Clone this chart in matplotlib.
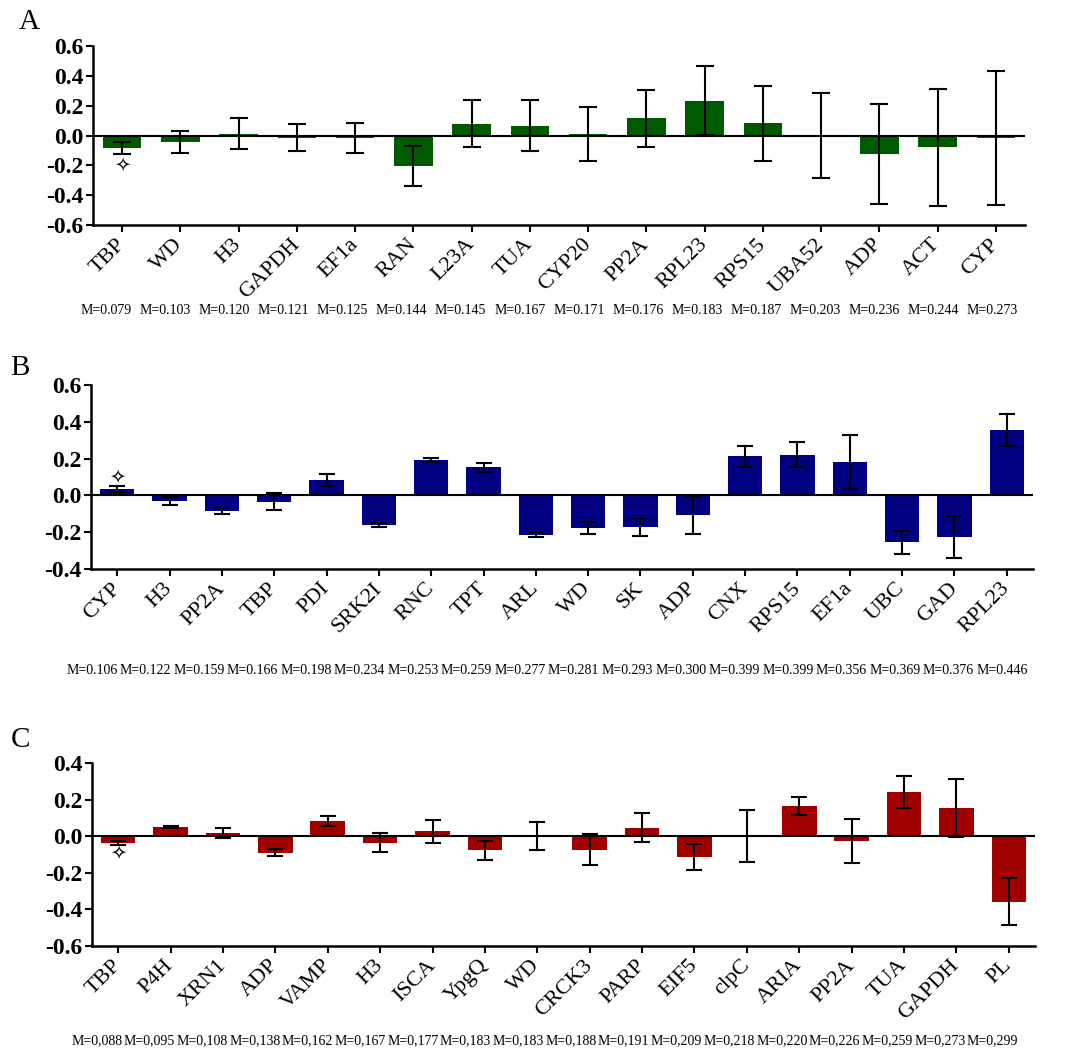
import numpy as np
import matplotlib
matplotlib.use("Agg")
import matplotlib.pyplot as plt
import matplotlib.transforms as mtransforms

# panel A
genes_a = ['TBP', 'WD', 'H3', 'GAPDH', 'EF1a', 'RAN', 'L23A', 'TUA', 'CYP20', 'PP2A',
           'RPL23', 'RPS15', 'UBA52', 'ADP', 'ACT', 'CYP']
mean_a = [-0.085, -0.043, 0.012, -0.016, -0.016, -0.206, 0.079, 0.066, 0.011, 0.115,
          0.234, 0.082, 0.0, -0.126, -0.080, -0.017]
err_a = [0.039, 0.076, 0.105, 0.090, 0.098, 0.133, 0.158, 0.172, 0.181, 0.189,
         0.229, 0.253, 0.285, 0.335, 0.395, 0.451]
m_a = [0.079, 0.103, 0.120, 0.121, 0.125, 0.144, 0.145, 0.167, 0.171, 0.176,
       0.183, 0.187, 0.203, 0.236, 0.244, 0.273]

# panel B
genes_b = ['CYP', 'H3', 'PP2A', 'TBP', 'PDI', 'SRK2I', 'RNC', 'TPT', 'ARL', 'WD',
           'SK', 'ADP', 'CNX', 'RPS15', 'EF1a', 'UBC', 'GAD', 'RPL23']
mean_b = [0.034, -0.030, -0.085, -0.034, 0.082, -0.161, 0.192, 0.153, -0.217, -0.178,
          -0.171, -0.108, 0.213, 0.220, 0.180, -0.254, -0.226, 0.356]
err_b = [0.015, 0.020, 0.015, 0.046, 0.032, 0.012, 0.012, 0.025, 0.010, 0.031,
         0.048, 0.104, 0.057, 0.068, 0.147, 0.062, 0.113, 0.087]
m_b = [0.106, 0.122, 0.159, 0.166, 0.198, 0.234, 0.253, 0.259, 0.277, 0.281,
       0.293, 0.300, 0.399, 0.399, 0.356, 0.369, 0.376, 0.446]

# panel C
genes_c = ['TBP', 'P4H', 'XRN1', 'ADP', 'VAMP', 'H3', 'ISCA', 'YpgQ', 'WD', 'CRCK3',
           'PARP', 'EIF5', 'clpC', 'ARIA', 'PP2A', 'TUA', 'GAPDH', 'PL']
mean_c = [-0.035, 0.051, 0.017, -0.090, 0.082, -0.035, 0.028, -0.078, 0.0, -0.075,
          0.047, -0.111, 0.0, 0.165, -0.028, 0.242, 0.154, -0.358]
err_c = [0.011, 0.005, 0.027, 0.019, 0.027, 0.054, 0.063, 0.051, 0.077, 0.085,
         0.078, 0.071, 0.142, 0.047, 0.121, 0.087, 0.156, 0.127]
m_c = [0.088, 0.095, 0.108, 0.138, 0.162, 0.167, 0.177, 0.183, 0.183, 0.188,
       0.191, 0.209, 0.218, 0.220, 0.226, 0.259, 0.273, 0.299]

SERIF = 'Liberation Serif'
W, H = 1068, 1049


def draw_panel(fig, rect, genes, means, errs, mvals, color, yticks, letter, letter_xy,
               star_y, m_range, m_y, capsize, comma=False):
    ax = fig.add_axes(rect)
    x = np.arange(len(genes))
    ax.bar(x, means, width=0.66, color=color, zorder=2)
    ax.errorbar(x, means, yerr=errs, fmt='none', ecolor='black', elinewidth=1.5,
                capsize=capsize, capthick=1.5, zorder=3)
    ax.axhline(0, color='black', lw=1.5, zorder=4)
    ax.set_xlim(-0.5, len(genes) - 0.5)
    ax.set_ylim(yticks[0], yticks[-1])
    ax.set_yticks(yticks)
    ax.set_yticklabels([f"{v:.1f}" for v in yticks], fontfamily=SERIF,
                       fontweight='bold', fontsize=17)
    ax.set_xticks(x)
    ax.set_xticklabels(genes, rotation=45, ha='right', va='center',
                       rotation_mode='anchor', fontfamily=SERIF, fontsize=16)
    ax.tick_params(axis='both', width=1.5, length=5)
    ax.tick_params(axis='x', pad=7)
    ax.tick_params(axis='y', pad=2)
    for s in ['top', 'right']:
        ax.spines[s].set_visible(False)
    for s in ['left', 'bottom']:
        ax.spines[s].set_linewidth(1.8)

    # reference gene marker
    ax.text(0, star_y, '\u2727', ha='center', va='center', fontsize=14,
            fontfamily='DejaVu Sans', zorder=5)

    fig.text(letter_xy[0] / W, 1 - letter_xy[1] / H, letter, fontfamily=SERIF,
             fontsize=21, ha='center', va='center')

    trans = mtransforms.blended_transform_factory(ax.transAxes, fig.transFigure)
    xs = np.linspace(m_range[0], m_range[1], len(mvals))
    for xp, mv in zip(xs, mvals):
        s = f"M={mv:.3f}"
        if comma:
            s = s.replace('.', ',')
        ax.text(xp, 1 - m_y / H, s, transform=trans, ha='center', va='center',
                fontfamily=SERIF, fontsize=10)
    return ax


fig = plt.figure(figsize=(W / 100, H / 100), dpi=100)

draw_panel(fig, [93 / W, 1 - 225 / H, 932 / W, 179 / H], genes_a, mean_a, err_a, m_a,
           '#005a00', np.round(np.arange(-0.6, 0.61, 0.2), 1), 'A', (29, 22),
           -0.2, (0.014, 0.965), 310, 6.5)
draw_panel(fig, [91 / W, 1 - 569 / H, 942 / W, 184 / H], genes_b, mean_b, err_b, m_b,
           '#000080', np.round(np.arange(-0.4, 0.61, 0.2), 1), 'B', (20, 368),
           0.10, (0.001, 0.967), 671, 6)
draw_panel(fig, [92 / W, 1 - 946 / H, 943 / W, 183 / H], genes_c, mean_c, err_c, m_c,
           '#a00000', np.round(np.arange(-0.6, 0.41, 0.2), 1), 'C', (21, 740),
           -0.09, (0.005, 0.955), 1041, 6, comma=True)

fig.savefig('out.png', dpi=100)
